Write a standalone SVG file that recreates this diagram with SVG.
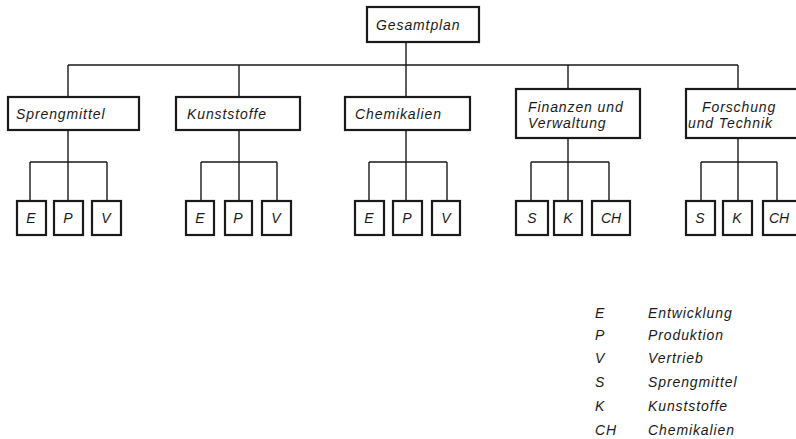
<svg xmlns="http://www.w3.org/2000/svg" width="796" height="439" viewBox="0 0 796 439">
<style>
.box{fill:#fff;stroke:#1a1a1a;stroke-width:2.2}
.ln{fill:none;stroke:#1a1a1a;stroke-width:1.4}
text{font-family:"Liberation Sans",Arial,sans-serif;font-style:italic;font-size:14px;fill:#1a1a1a;letter-spacing:0.9px}
.c{text-anchor:middle;letter-spacing:0}
</style>
<rect width="796" height="439" fill="#fff"/>
<g id="connectors" class="ln">
<path d="M406 42V97M68 65H738M68 65V97M239 65V97M568 65V89M738 65V89"/>
<path d="M68 130V201M30 162H107M30 162V201M107 162V201"/>
<path d="M239 130V201M201 162H277M201 162V201M277 162V201"/>
<path d="M406 130V201M369 162H447M369 162V201M447 162V201"/>
<path d="M568 138V201M531 162H609M531 162V201M609 162V201"/>
<path d="M738 138V201M701 162H777M701 162V201M777 162V201"/>
</g>
<g id="gesamtplan"><rect class="box" x="367" y="7" width="112" height="35"/><text x="376" y="30">Gesamtplan</text></g>
<g id="sprengmittel"><rect class="box" x="8" y="97" width="131" height="33"/><text x="16" y="119">Sprengmittel</text></g>
<g id="kunststoffe"><rect class="box" x="176" y="97" width="124" height="33"/><text x="187" y="119">Kunststoffe</text></g>
<g id="chemikalien"><rect class="box" x="345" y="97" width="125" height="33"/><text x="355" y="119">Chemikalien</text></g>
<g id="finanzen"><rect class="box" x="516" y="89" width="124" height="49"/><text x="528" y="112">Finanzen und</text><text x="528" y="128">Verwaltung</text></g>
<g id="forschung"><rect class="box" x="686" y="89" width="112" height="49"/><text x="702" y="112">Forschung</text><text x="688" y="128">und Technik</text></g>
<g id="s-e"><rect class="box" x="17" y="201" width="29" height="34"/><text class="c" x="31" y="223">E</text></g>
<g id="s-p"><rect class="box" x="54" y="201" width="29" height="34"/><text class="c" x="68" y="223">P</text></g>
<g id="s-v"><rect class="box" x="92" y="201" width="29" height="34"/><text class="c" x="106" y="223">V</text></g>
<g id="k-e"><rect class="box" x="186" y="201" width="28" height="34"/><text class="c" x="200" y="223">E</text></g>
<g id="k-p"><rect class="box" x="225" y="201" width="27" height="34"/><text class="c" x="238" y="223">P</text></g>
<g id="k-v"><rect class="box" x="262" y="201" width="29" height="34"/><text class="c" x="276" y="223">V</text></g>
<g id="c-e"><rect class="box" x="355" y="201" width="29" height="34"/><text class="c" x="369" y="223">E</text></g>
<g id="c-p"><rect class="box" x="393" y="201" width="29" height="34"/><text class="c" x="407" y="223">P</text></g>
<g id="c-v"><rect class="box" x="432" y="201" width="28" height="34"/><text class="c" x="446" y="223">V</text></g>
<g id="f-s"><rect class="box" x="516" y="201" width="32" height="34"/><text class="c" x="532" y="223">S</text></g>
<g id="f-k"><rect class="box" x="554" y="201" width="28" height="34"/><text class="c" x="568" y="223">K</text></g>
<g id="f-ch"><rect class="box" x="592" y="201" width="38" height="34"/><text class="c" x="611" y="223">CH</text></g>
<g id="t-s"><rect class="box" x="686" y="201" width="29" height="34"/><text class="c" x="700" y="223">S</text></g>
<g id="t-k"><rect class="box" x="723" y="201" width="29" height="34"/><text class="c" x="737" y="223">K</text></g>
<g id="t-ch"><rect class="box" x="763" y="201" width="36" height="34"/><text class="c" x="779" y="223">CH</text></g>
<g id="legend">
<text x="595" y="318">E</text><text x="648" y="318">Entwicklung</text>
<text x="595" y="340">P</text><text x="648" y="340">Produktion</text>
<text x="595" y="363">V</text><text x="648" y="363">Vertrieb</text>
<text x="595" y="387">S</text><text x="648" y="387">Sprengmittel</text>
<text x="595" y="411">K</text><text x="648" y="411">Kunststoffe</text>
<text x="595" y="435">CH</text><text x="648" y="435">Chemikalien</text>
</g>
</svg>
